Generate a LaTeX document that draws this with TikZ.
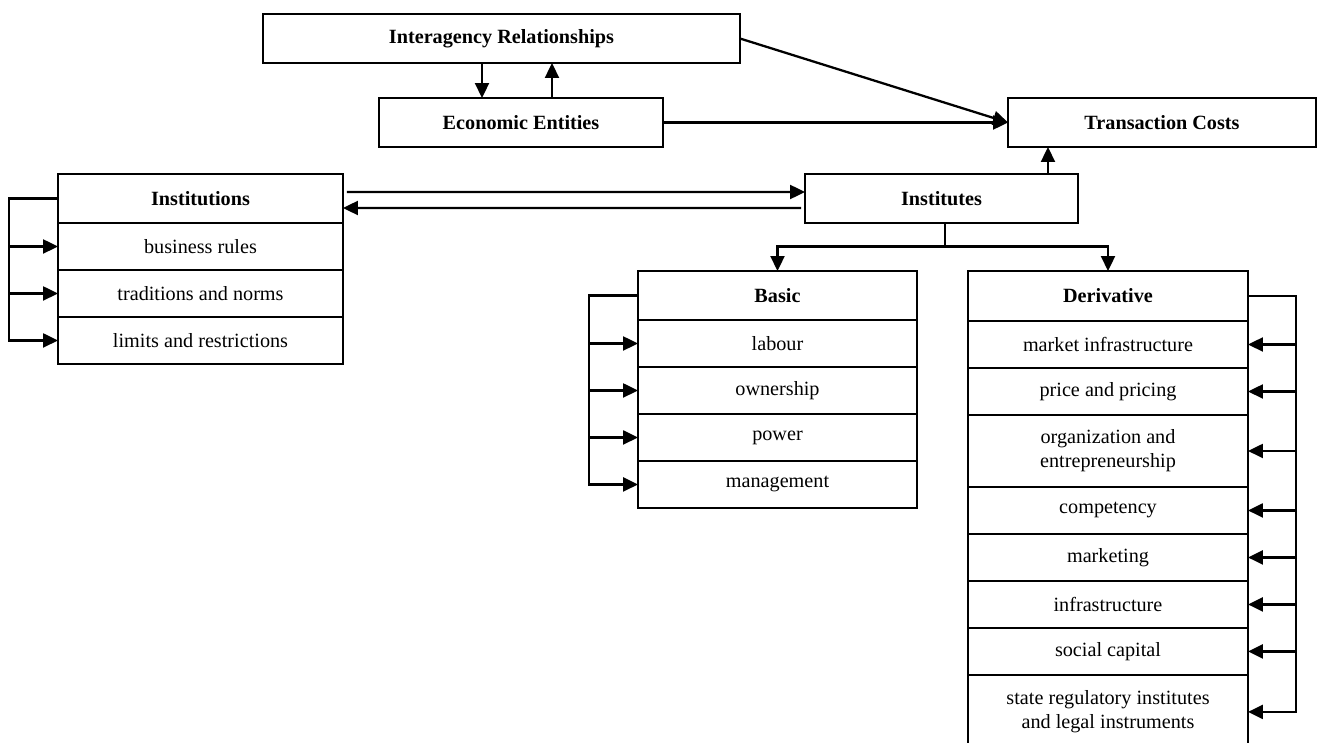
\documentclass[tikz,border=0pt]{standalone}
\usepackage{fontspec}
\setmainfont{Liberation Serif}
\usetikzlibrary{arrows.meta,positioning}
\tikzset{
  blk/.style={draw, line width=0.7pt, outer sep=0pt, inner sep=1pt, align=center,
    minimum height=0.94cm, font=\fontsize{11.5}{13.5}\selectfont},
  hd/.style={blk, minimum height=0.98cm, font=\fontsize{11.5}{13.5}\selectfont\bfseries},
  arr/.style={line width=1.3pt, -{Triangle[length=0.3cm, width=0.28cm]}},
  ln/.style={line width=1.3pt},
}

\begin{document}
\begin{tikzpicture}[x=0.02cm, y=-0.02cm]
	%%%%% START %%%%%
	\useasboundingbox (0,0) rectangle (1318,743);

	\node[hd, minimum width=9.54cm] (inter) at (501.5,38.5) {Interagency Relationships};
	\node[hd, minimum width=5.68cm] (entities) at (521,122.5) {Economic Entities};
	\node[hd, minimum width=6.16cm] (costs) at (1162,122.5) {Transaction Costs};
	\node[hd, minimum width=5.46cm] (institutes) at (941.5,198.5) {Institutes};

	\node[hd, minimum width=5.7cm] (instn) at (200.5,198.5) {Institutions};
	\node[blk, minimum width=5.7cm, below=0pt of instn] (instn1) {business rules};
	\node[blk, minimum width=5.7cm, below=0pt of instn1] (instn2) {traditions and norms};
	\node[blk, minimum width=5.7cm, below=0pt of instn2] (instn3) {limits and restrictions};

	\node[hd, minimum width=5.58cm] (basic) at (777.5,295.5) {Basic};
	\node[blk, minimum width=5.58cm, below=0pt of basic] (bs1) {labour};
	\node[blk, minimum width=5.58cm, below=0pt of bs1] (bs2) {ownership};
	\node[blk, minimum width=5.58cm, below=0pt of bs2] (bs3) {power};
	\node[blk, minimum width=5.58cm, below=0pt of bs3] (bs4) {management};

	\node[hd, minimum width=5.6cm, minimum height=1cm] (deriv) at (1108,296) {Derivative};
	\node[blk, minimum width=5.6cm, below=0pt of deriv] (dv1) {market infrastructure};
	\node[blk, minimum width=5.6cm, below=0pt of dv1] (dv2) {price and pricing};
	\node[blk, minimum width=5.6cm, minimum height=1.44cm, below=0pt of dv2] (dv3) {organization and\\entrepreneurship};
	\node[blk, minimum width=5.6cm, below=0pt of dv3] (dv4) {competency};
	\node[blk, minimum width=5.6cm, below=0pt of dv4] (dv5) {marketing};
	\node[blk, minimum width=5.6cm, below=0pt of dv5] (dv6) {infrastructure};
	\node[blk, minimum width=5.6cm, below=0pt of dv6] (dv7) {social capital};
	\node[blk, minimum width=5.6cm, minimum height=1.48cm, below=0pt of dv7] (dv8) {state regulatory institutes\\and legal instruments};

	% top block
	\draw[arr] ([xshift=-0.39cm]inter.south) -- ([xshift=-0.39cm]inter.south |- entities.north);
	\draw[arr] ([xshift=1.01cm]inter.south |- entities.north) -- ([xshift=1.01cm]inter.south);
	\draw[arr] (inter.east) -- (costs.west);
	\draw[arr] (entities.east) -- (costs.west);
	\draw[arr] ([xshift=2.13cm]institutes.north) -- ([xshift=2.13cm]institutes.north |- costs.south);

	% institutions <-> institutes
	\draw[arr] ([shift={(4,-6.5)}]instn.east) -- ([yshift=0.13cm]institutes.west);
	\draw[arr] ([shift={(-4,9.5)}]institutes.west) -- ([yshift=-0.19cm]instn.east);

	% split down
	\draw[ln] ([xshift=0.07cm]institutes.south) -- ++(0,23.5) coordinate (split);
	\draw[arr] (split) -| (basic.north);
	\draw[arr] (split) -| (deriv.north);

	% brackets
	\draw[arr] (instn.west) -- ++(-49,0) coordinate (lbi) |- (instn3.west);
	\foreach \r in {instn1,instn2}
		\draw[arr] (lbi |- \r.west) -- (\r.west);

	\draw[arr] (basic.west) -- ++(-49,0) coordinate (lbb) |- (bs4.west);
	\foreach \r in {bs1,bs2,bs3}
		\draw[arr] (lbb |- \r.west) -- (\r.west);

	\draw[arr] (deriv.east) -- ++(48,0) coordinate (lbd) |- (dv8.east);
	\foreach \r in {dv1,dv2,dv3,dv4,dv5,dv6,dv7}
		\draw[arr] (lbd |- \r.east) -- (\r.east);

	%%%%% END %%%%%
\end{tikzpicture}
\end{document}
